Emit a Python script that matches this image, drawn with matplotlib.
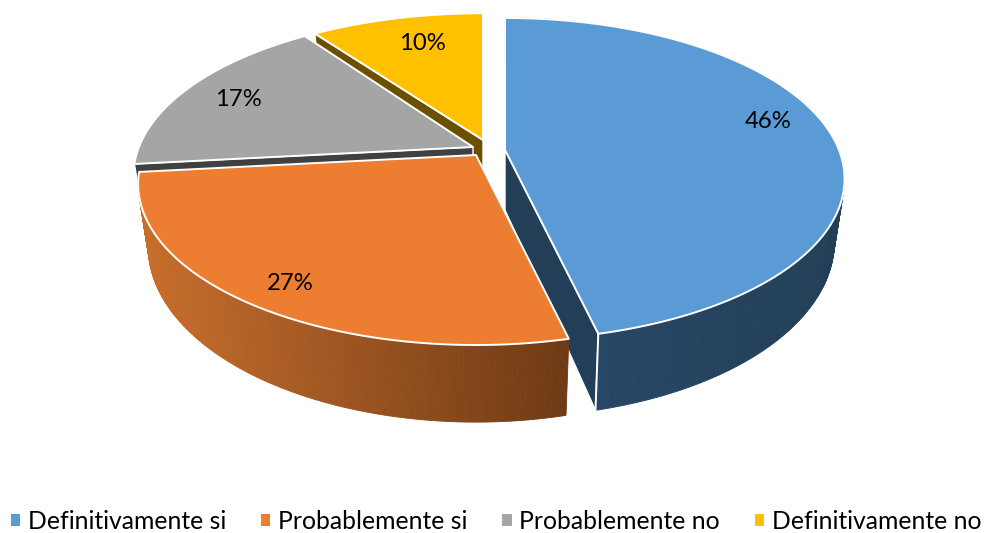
import numpy as np
import matplotlib
matplotlib.use("Agg")
import matplotlib.pyplot as plt
from matplotlib.patches import Polygon, Patch
from matplotlib.collections import PolyCollection

categories = ["Definitivamente si", "Probablemente si", "Probablemente no", "Definitivamente no"]
values = [46.3, 27.0, 16.9, 9.8]
colors = ["#5B9BD5", "#ED7D31", "#A5A5A5", "#FFC000"]
cut_colors = ["#223F57", "#7A3F16", "#404040", "#6B5000"]

# geometry of the projected pie, in figure pixels
apex = {0: (505, 150), 1: (476, 155), 2: (473, 147), 3: (483, 140)}
scale = {0: (1.0, 1.0), 1: (0.995, 1.0), 2: (1.0, 1.0), 3: (1.0, 0.96)}
RX, RY, K = 334.0, 155.8, 0.18
DEPTH, SX, SY = 60.0, 0.97, 1.09
label_pos = [(768, 121), (290, 283), (238, 99), (422, 43)]

plt.rcParams["font.family"] = ["Lato", "DejaVu Sans"]
fig = plt.figure(figsize=(9.84, 5.33), dpi=100)
ax = fig.add_axes([0, 0, 1, 1])
ax.set_xlim(0, 984)
ax.set_ylim(533, 0)
ax.axis("off")

edges = np.concatenate([[0], np.cumsum(values)]) / np.sum(values) * 2 * np.pi


def top(i, t):
    u, v = np.sin(t), np.cos(t)
    d = 1 + K * v
    return np.column_stack([apex[i][0] + scale[i][0] * RX * u / d,
                            apex[i][1] - scale[i][1] * RY * v / d])


def bottom(i, t):
    u, v = np.sin(t), np.cos(t)
    d = 1 + K * v
    return np.column_stack([apex[i][0] + scale[i][0] * SX * RX * u / d,
                            apex[i][1] + DEPTH - scale[i][1] * SY * RY * v / d])


def arc(i):
    return np.linspace(edges[i], edges[i + 1], 240)


def mix(c0, c1, f):
    a, b = np.array(matplotlib.colors.to_rgb(c0)), np.array(matplotlib.colors.to_rgb(c1))
    return tuple(a + (b - a) * f)


def draw_cut(i, t, z):
    ap = np.array(apex[i], float)
    p = top(i, np.array([t]))[0]
    q = bottom(i, np.array([t]))[0]
    ax.add_patch(Polygon([ap, p, q, ap + [0, DEPTH]], closed=True, fc=cut_colors[i],
                         ec="white", lw=1.0, zorder=z))


def draw_top(i, z):
    pts = np.vstack([[apex[i]], top(i, arc(i))])
    ax.add_patch(Polygon(pts, closed=True, fc=colors[i], ec="white", lw=1.4,
                         joinstyle="round", zorder=z))


def draw_side(i, left, right, z):
    t = arc(i)
    a, b = top(i, t), bottom(i, t)
    polys, cols = [], []
    x0, x1 = a[:, 0].min(), a[:, 0].max()
    for j in range(len(t) - 1):
        polys.append([a[j], a[j + 1], b[j + 1], b[j]])
        cols.append(mix(left, right, (a[j, 0] - x0) / (x1 - x0)))
    ax.add_collection(PolyCollection(polys, facecolors=cols, edgecolors=cols, linewidths=0.6, zorder=z))


# back slices first
draw_cut(3, edges[3], 1)
draw_top(3, 2)
draw_cut(2, edges[2], 3)
draw_top(2, 4)
# blue
draw_cut(0, edges[1], 5)
draw_side(0, "#2A4A6C", "#223F57", 6)
p_top = top(0, np.array([edges[1]]))[0]
p_bot = bottom(0, np.array([edges[1]]))[0]
ax.plot([p_top[0], p_bot[0]], [p_top[1], p_bot[1]], color="white", lw=1.4, zorder=7)
draw_top(0, 8)
# orange
draw_side(1, "#C86E2C", "#6E3A14", 9)
draw_top(1, 10)

for txt_val, (x, y) in zip(values, label_pos):
    ax.text(x, y, f"{txt_val:.0f}%", ha="center", va="center", fontsize=17.2, color="black", zorder=20)

handles = [Patch(fc=c, ec="none") for c in colors]
leg = ax.legend(handles, categories, loc="lower left", bbox_to_anchor=(11 / 984, 0.0), ncol=4,
                frameon=False, fontsize=17.8, handlelength=0.37, handleheight=0.37,
                handletextpad=0.31, columnspacing=1.42, borderpad=0.0, borderaxespad=0)

fig.savefig("out.png", dpi=100, facecolor="white")
